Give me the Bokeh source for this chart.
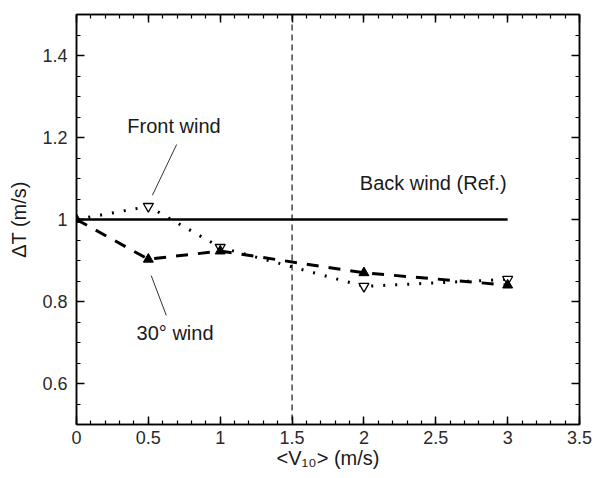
from bokeh.plotting import figure
from bokeh.models import (Range1d, LinearAxis, FixedTicker, CustomJSTickFormatter,
                          Span, Label)
from bokeh.embed import file_html
from bokeh.resources import INLINE

# ---------------- data ----------------
wind_speed = [0, 0.5, 1, 2, 3]
back_wind = [1.0, 1.0, 1.0, 1.0, 1.0]
front_wind = [1.0, 1.032, 0.932, 0.837, 0.854]
wind_30 = [1.0, 0.903, 0.923, 0.870, 0.840]

x_ticks = [0, 0.5, 1, 1.5, 2, 2.5, 3, 3.5]
x_tick_labels = ["0", "0.5", "1", "1.5", "2", "2.5", "3", "3.5"]
y_ticks = [0.6, 0.8, 1.0, 1.2, 1.4]
y_tick_labels = ["0.6", "0.8", "1", "1.2", "1.4"]
x_minor = [round(i * 0.1, 2) for i in range(0, 36)]
y_minor = [round(0.5 + i * 0.05, 3) for i in range(0, 21)]

x_title = "<V₁₀> (m/s)"
y_title = "ΔT (m/s)"

threshold_speed = 1.5

# leader lines (annotation pointers)
front_leader_x = [0.697, 0.528]
front_leader_y = [1.183, 1.059]
w30_leader_x = [0.520, 0.625]
w30_leader_y = [0.863, 0.766]

FONT = "Liberation Sans"
TXT = "#1a1a1a"

FL, FR, FT, FB = 76, 579, 14, 424
XMIN, XMAX, YMIN, YMAX = 0.0, 3.5, 0.5, 1.5

p = figure(width=594, height=478, x_range=Range1d(XMIN, XMAX), y_range=Range1d(YMIN, YMAX),
           output_backend="svg", toolbar_location=None,
           min_border_left=FL, min_border_right=594 - FR,
           min_border_top=FT, min_border_bottom=478 - FB)
p.xgrid.visible = False
p.ygrid.visible = False
p.outline_line_color = "black"
p.outline_line_width = 1.5
p.background_fill_color = "white"
p.border_fill_color = "white"

bottom_axis = p.below[0]
left_axis = p.left[0]


def fmt(ticks, labels):
    return CustomJSTickFormatter(args=dict(tvals=ticks, tlabels=labels), code="""
        for (let i = 0; i < tvals.length; i++) {
            if (Math.abs(tvals[i] - tick) < 1e-9) return tlabels[i];
        }
        return '';
    """)


def style_axis(ax, ticks, minor, labels, show_labels, standoff):
    ax.ticker = FixedTicker(ticks=ticks, minor_ticks=minor)
    ax.axis_line_color = "black"
    ax.axis_line_width = 1.5
    ax.major_tick_line_color = "black"
    ax.major_tick_line_width = 1.5
    ax.minor_tick_line_color = "black"
    ax.minor_tick_line_width = 1.2
    ax.major_tick_in = 8
    ax.major_tick_out = 0
    ax.minor_tick_in = 4
    ax.minor_tick_out = 0
    ax.axis_label = None
    ax.major_label_text_font = FONT
    ax.major_label_text_font_size = "18px"
    ax.major_label_text_color = "#2a2a2a"
    if show_labels:
        ax.formatter = fmt(ticks, labels)
        ax.major_label_standoff = standoff
    else:
        ax.formatter = CustomJSTickFormatter(code="return '';")
        ax.major_label_standoff = 0


style_axis(bottom_axis, x_ticks, x_minor, x_tick_labels, True, 6)
style_axis(left_axis, y_ticks, y_minor, y_tick_labels, True, 9)
top_axis = LinearAxis()
right_axis = LinearAxis()
style_axis(top_axis, x_ticks, x_minor, x_tick_labels, False, 0)
style_axis(right_axis, y_ticks, y_minor, y_tick_labels, False, 0)
p.add_layout(top_axis, "above")
p.add_layout(right_axis, "right")

# axis titles
for ax, title, so in ((bottom_axis, x_title, 0), (left_axis, y_title, 9)):
    ax.axis_label = title
    ax.axis_label_text_font = FONT
    ax.axis_label_text_font_size = "20px"
    ax.axis_label_text_font_style = "normal"
    ax.axis_label_text_color = TXT
    ax.axis_label_standoff = so

# vertical dashed threshold line
p.add_layout(Span(location=threshold_speed, dimension="height", line_color="black",
                  line_width=1.1, line_dash="6 4"))

# series
p.line(wind_speed, back_wind, line_color="black", line_width=2.5)
p.line(wind_speed, front_wind, line_color="black", line_width=3, line_dash="2 10")
p.line(wind_speed, wind_30, line_color="black", line_width=3, line_dash="12 10")
p.scatter(wind_speed[1:], front_wind[1:], marker="inverted_triangle", size=10,
          fill_color="white", line_color="black", line_width=1.3)
p.scatter(wind_speed, wind_30, marker="triangle", size=10,
          fill_color="black", line_color="black", line_width=1)

# leader lines
p.line(front_leader_x, front_leader_y, line_color="#333333", line_width=1)
p.line(w30_leader_x, w30_leader_y, line_color="#333333", line_width=1)


def lab(x, y, text):
    p.add_layout(Label(x=x, y=y, text=text, text_font=FONT, text_font_size="20px",
                       text_color=TXT, text_align="center", text_baseline="middle"))


# in-plot annotations
lab(0.678, 1.227, "Front wind")
lab(2.482, 1.090, "Back wind (Ref.)")
lab(0.686, 0.722, "30° wind")

open("out.html", "w").write(file_html(p, INLINE))
